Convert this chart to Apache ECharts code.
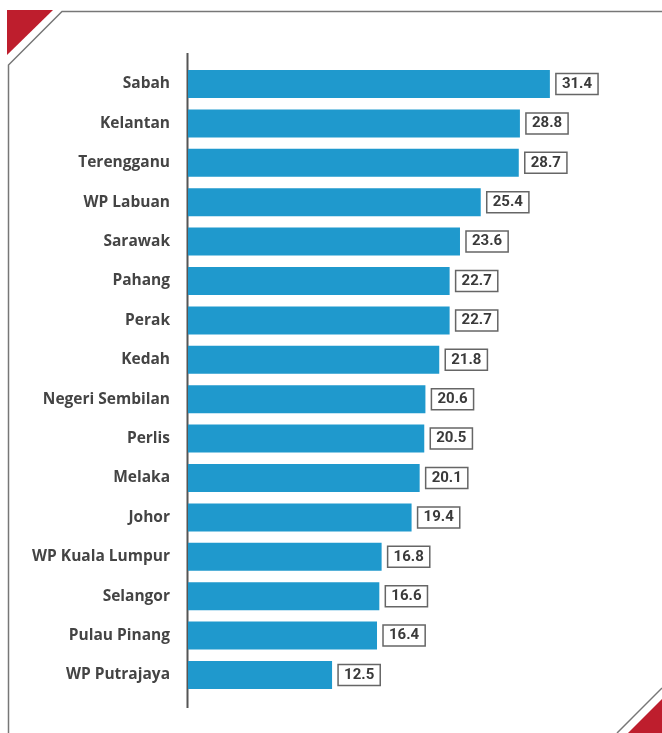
<!DOCTYPE html>
<html><head><meta charset="utf-8">
<script src="https://cdn.jsdelivr.net/npm/echarts@6/dist/echarts.min.js"></script>
<style>html,body{margin:0;padding:0;background:#fff}#c{width:662px;height:733px}</style>
</head><body><div id="c"></div>
<script>
const categories = ["Sabah","Kelantan","Terengganu","WP Labuan","Sarawak","Pahang","Perak","Kedah","Negeri Sembilan","Perlis","Melaka","Johor","WP Kuala Lumpur","Selangor","Pulau Pinang","WP Putrajaya"];
const values = [31.4,28.8,28.7,25.4,23.6,22.7,22.7,21.8,20.6,20.5,20.1,19.4,16.8,16.6,16.4,12.5];

const chart = echarts.init(document.getElementById('c'), null, {renderer:'canvas'});
chart.setOption({
  animation:false,
  backgroundColor:'#fff',
  grid:{left:188, right:13, top:64.3, bottom:38.3, containLabel:false},
  xAxis:{type:'value', min:0, max:40, show:false},
  yAxis:{type:'category', data:categories, inverse:true,
    axisLine:{show:false}, axisTick:{show:false}, splitLine:{show:false},
    axisLabel:{margin:18, fontFamily:'Open Sans', fontWeight:'bold', fontSize:15.5, color:'#444', padding:[0,0,7,0]}},
  series:[{type:'bar', data:values, barWidth:28, itemStyle:{color:'#1F99CD'},
    label:{show:true, position:'right', distance:6, fontFamily:'Roboto', fontWeight:'bold', fontSize:15, color:'#3a3a3a',
      borderColor:'#666', borderWidth:1.5, padding:[3,6,1,6], lineHeight:17, formatter:p=>p.value.toFixed(1)}}],
  graphic:[
    {type:'line', shape:{x1:187.5,y1:53,x2:187.5,y2:708}, style:{stroke:'#555', lineWidth:2}},
    {type:'polyline', shape:{points:[[662,11.5],[62,11.5],[8.5,65],[8.5,733]]}, style:{stroke:'#777', lineWidth:1.5, fill:null}},
    {type:'polygon', shape:{points:[[7,10],[53,10],[7,55]]}, style:{fill:'#BE1E2D'}},
    {type:'line', shape:{x1:662,y1:688,x2:617,y2:733}, style:{stroke:'#777', lineWidth:1.5}},
    {type:'polygon', shape:{points:[[662,699],[628,733],[662,733]]}, style:{fill:'#BE1E2D'}}
  ]
});
</script></body></html>
